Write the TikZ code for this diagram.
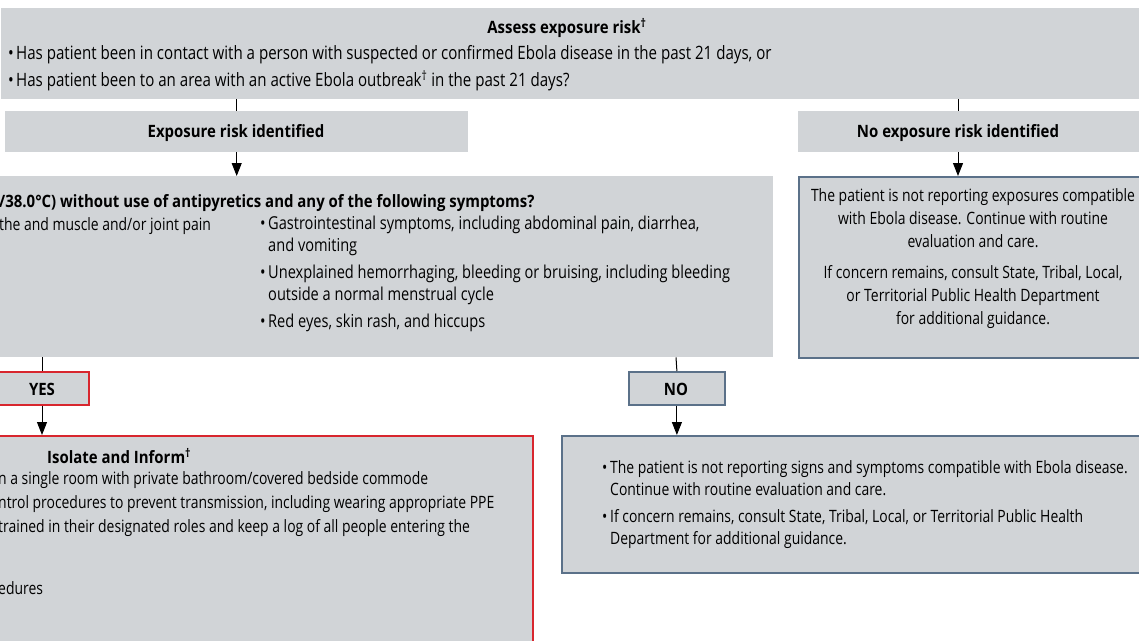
\documentclass[tikz,border=0pt]{standalone}
\usepackage{fontspec}
\setmainfont{Open Sans}[FakeStretch=0.82, BoldFeatures={FakeStretch=0.88}]
\usepackage{tikz}
\usetikzlibrary{positioning}
\usetikzlibrary{arrows.meta}

\definecolor{boxgray}{HTML}{D1D4D7}
\definecolor{edgeblue}{HTML}{5B7189}
\definecolor{edgered}{HTML}{D8262E}

\newcommand{\dagmark}{\textsuperscript{†}}
\newcommand{\bitem}[1]{\par\spaceskip=0pt\xspaceskip=0pt\noindent
	\makebox[8pt][l]{•}\begin{tabular}[t]{@{}l@{}}#1\end{tabular}\par\vspace{4pt}}

\tikzset{
	box/.style={fill=boxgray, draw=none, anchor=north west, inner sep=0pt},
	bluebox/.style={box, draw=edgeblue, line width=1.8pt},
	redbox/.style={box, draw=edgered, line width=1.8pt},
	txt/.style={font=\fontsize{17}{22}\selectfont, inner sep=0pt},
	head/.style={font=\fontsize{17}{22}\selectfont\bfseries, inner sep=0pt},
	list/.style={txt, anchor=north west, text width=#1, align=left},
	link/.style={line width=1pt},
	arrow/.style={link, -{Triangle[length=13pt,width=10pt]}},
}

\begin{document}
\begin{tikzpicture}[x=1pt, y=-1pt]
	
	% ------------------------------------------------
	% Keep the visible part of the chart
	\useasboundingbox (0,0) rectangle (1139,640);
	
	% ------------------------------------------------
	% Boxes
	\node[box, minimum width=1160pt, minimum height=91pt] (Assess) at (1,8) {};
	\node[box, minimum width=463pt, minimum height=41pt] (Risk) at (5,111) {};
	\node[box, minimum width=360pt, minimum height=41pt] (NoRisk) at (798,111) {};
	\node[box, minimum width=793pt, minimum height=181pt] (Symptoms) at (-20,176) {};
	\node[bluebox, minimum width=360pt, minimum height=181pt] (NoExposure) at (798,176) {};
	\node[redbox, minimum width=108pt, minimum height=33pt] (Yes) at (-20,371) {};
	\node[bluebox, minimum width=96pt, minimum height=33pt] (No) at (628,371) {};
	\node[redbox, minimum width=552pt, minimum height=230pt] (Isolate) at (-20,435) {};
	\node[bluebox, minimum width=600pt, minimum height=137pt] (Routine) at (561,435) {};
	
	% ----------------
	% Texts
	\node[head] (AssessHead) at (567,28) {Assess exposure risk\dagmark};
	\node[list=900pt, font=\fontsize{18.4}{22}\selectfont] (AssessList) at (8,37) {%
		\bitem{Has patient been in contact with a person with suspected or confirmed Ebola disease in the past 21 days, or}
		\bitem{Has patient been to an area with an active Ebola outbreak\dagmark{} in the past 21 days?}};
	
	\node[head] (RiskText) at (236,133) {Exposure risk identified};
	\node[head] (NoRiskText) at (958,133) {No exposure risk identified};
	
	\node[head, anchor=west] (SymHead) at (-1,203) {/38.0°C) without use of antipyretics and any of the following symptoms?};
	\node[txt, anchor=west] (SymLeft) at (-1,226) {the and muscle and/or joint pain};
	\node[list=560pt, font=\fontsize{17.8}{22}\selectfont] (SymRight) at (260,207) {%
		\bitem{Gastrointestinal symptoms, including abdominal pain, diarrhea,\\ and vomiting}
		\bitem{Unexplained hemorrhaging, bleeding or bruising, including bleeding\\ outside a normal menstrual cycle}
		\bitem{Red eyes, skin rash, and hiccups}};
	
	\node[txt, anchor=north, align=center] (NoExpText) at (973,188) {%
		The patient is not reporting exposures compatible\\[1pt]
		with Ebola disease. Continue with routine\\[1pt]
		evaluation and care.\\[9pt]
		If concern remains, consult State, Tribal, Local,\\[1pt]
		or Territorial Public Health Department\\[1pt]
		for additional guidance.};
	
	\node[head] (YesText) at (42,389) {YES};
	\node[head] (NoText) at (676,389) {NO};
	
	\node[head, anchor=west] (IsoHead) at (47,456) {Isolate and Inform\dagmark};
	\node[txt, anchor=north west, align=left] (IsoList) at (-2,471) {%
		n a single room with private bathroom/covered bedside commode\\[2pt]
		ntrol procedures to prevent transmission, including wearing appropriate PPE\\[2pt]
		trained in their designated roles and keep a log of all people entering the\\[40pt]
		edures};
	
	\node[list=570pt] (RoutineList) at (602,451) {%
		\bitem{The patient is not reporting signs and symptoms compatible with Ebola disease.\\ Continue with routine evaluation and care.}
		\bitem{If concern remains, consult State, Tribal, Local, or Territorial Public Health\\ Department for additional guidance.}};
	
	% ----------------
	% Connectors
	\draw[link] (Assess.south -| Risk.south) -- (Risk.north);
	\draw[link] (Assess.south -| NoRiskText.south) -- (NoRiskText.south |- NoRisk.north);
	\draw[arrow] (Risk.south) -- (Risk.south |- Symptoms.north);
	\draw[arrow] (NoRiskText.south |- NoRisk.south) -- (NoRiskText.south |- NoExposure.north);
	\draw[link] (YesText.north |- Symptoms.south) -- (YesText.north |- Yes.north);
	\draw[link] (NoText.north |- Symptoms.south) -- (No.north);
	\draw[arrow] (YesText.south |- Yes.south) -- (YesText.south |- Isolate.north);
	\draw[arrow] (No.south) -- (No.south |- Routine.north);
	
\end{tikzpicture}
\end{document}
